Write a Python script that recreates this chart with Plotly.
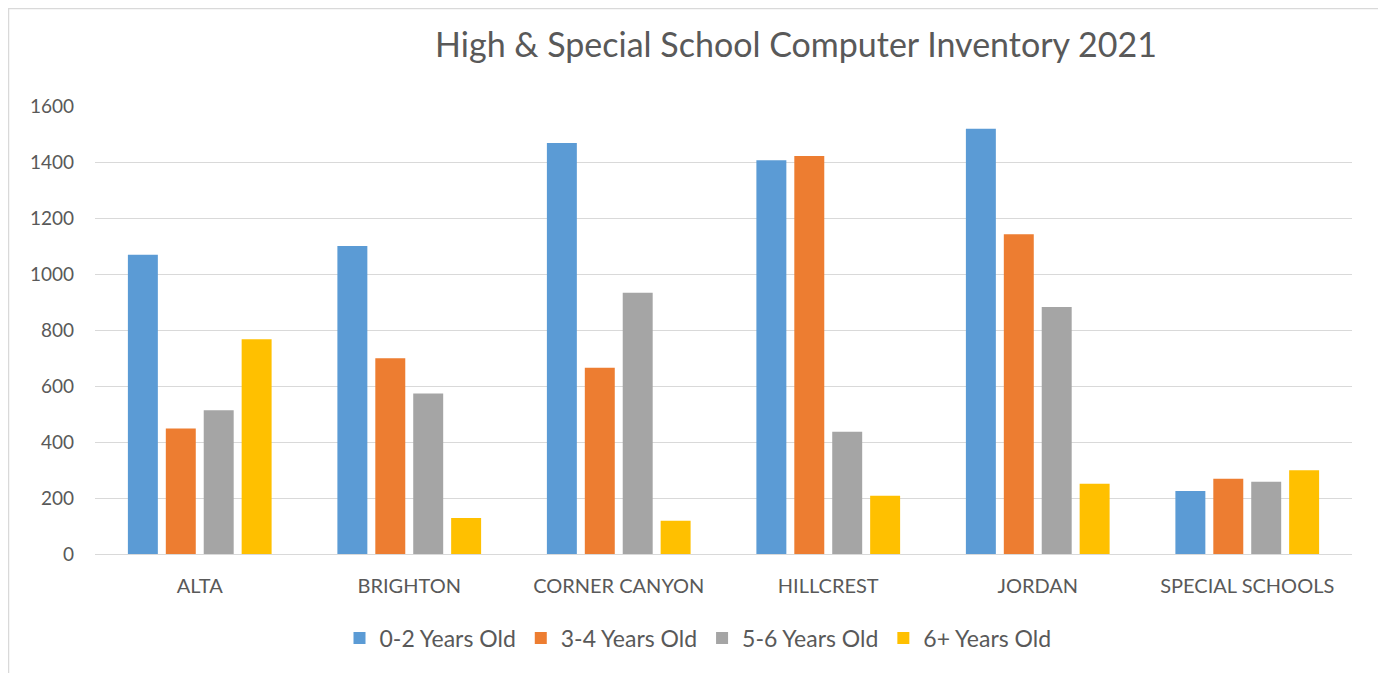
import plotly.graph_objects as go

categories = ["ALTA", "BRIGHTON", "CORNER CANYON", "HILLCREST", "JORDAN", "SPECIAL SCHOOLS"]
series_names = ["0-2 Years Old", "3-4 Years Old", "5-6 Years Old", "6+ Years Old"]
vals_0_2 = [1069, 1100, 1468, 1406, 1519, 225]
vals_3_4 = [448, 699, 665, 1421, 1142, 269]
vals_5_6 = [513, 573, 933, 437, 882, 258]
vals_6p = [767, 129, 119, 208, 251, 299]
colors = ["#5B9BD5", "#ED7D31", "#A5A5A5", "#FFC000"]
y_ticks = [0, 200, 400, 600, 800, 1000, 1200, 1400, 1600]

# page has an 8px body margin, so figure coordinates = page coordinates - 8
OFF = 8
W, H = 1386 - OFF, 673 - OFF
L, R, T, B = 95 - OFF, 1352 - OFF, 106 - OFF, 554 - OFF

fig = go.Figure()
for name, vals, col in zip(series_names, [vals_0_2, vals_3_4, vals_5_6, vals_6p], colors):
    fig.add_trace(go.Bar(x=categories, y=vals, name=name, marker=dict(color=col, line=dict(width=0))))

font_family = "Lato, Open Sans, sans-serif"
text_col = "#595959"

fig.update_layout(
    width=W, height=H,
    margin=dict(l=L, r=W - R, t=T, b=H - B, pad=0),
    paper_bgcolor="white", plot_bgcolor="white",
    barmode="group", bargap=0.276, bargroupgap=0.21,
    font=dict(family=font_family, color=text_col, size=16),
    title=dict(text="High & Special School Computer Inventory 2021",
               x=(796 - OFF) / W, xref="container", xanchor="center",
               y=1 - (45 - OFF) / H, yref="container", yanchor="middle",
               font=dict(size=34, color=text_col, family=font_family)),
    legend=dict(orientation="h", xref="container", yref="container",
                x=(698 - OFF) / W, xanchor="center", y=1 - (638 - OFF) / H, yanchor="middle",
                font=dict(size=23, color=text_col), itemsizing="constant",
                traceorder="normal"),
    showlegend=True,
)
fig.update_yaxes(range=[0, 1600], tickvals=y_ticks, showgrid=True, gridcolor="#D9D9D9",
                 gridwidth=1.3, zeroline=False, showline=False, ticks="",
                 ticklabelstandoff=20, tickfont=dict(size=19, color=text_col))
fig.update_xaxes(showgrid=False, showline=True, linecolor="#D9D9D9", linewidth=1.3,
                 ticks="", ticklabelstandoff=14, tickfont=dict(size=20, color=text_col))

# chart border like the spreadsheet frame
pw, ph = R - L, B - T
fig.add_shape(type="rect", xref="paper", yref="paper",
              x0=(0.5 - L) / pw, x1=(1380 - OFF - L) / pw,
              y0=(B - 700) / ph, y1=(B - 0.5) / ph,
              line=dict(color="#D9D9D9", width=1.5), fillcolor="rgba(0,0,0,0)", layer="below")

fig.write_html("out.html")
